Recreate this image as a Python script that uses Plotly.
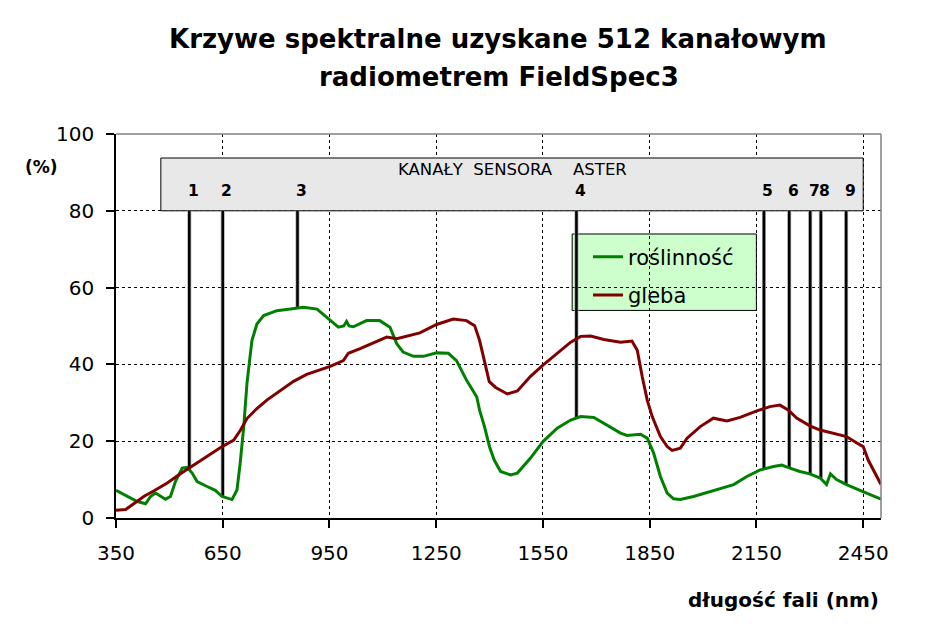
import plotly.graph_objects as go
import numpy as np

# ---------------- data ----------------
wl_green = [350, 382, 410, 433, 447, 461, 489, 503, 517, 536, 550, 564, 578, 606, 629, 648, 676, 690,
            699, 709, 718, 732, 746, 765, 802, 840, 877, 915, 943, 975, 990, 998, 1005, 1017, 1054,
            1091, 1120, 1139, 1157, 1186, 1214, 1251, 1284, 1307, 1335, 1364, 1372, 1385, 1400, 1413,
            1431, 1459, 1478, 1515, 1550, 1590, 1628, 1656, 1693, 1730, 1768, 1786, 1824, 1843, 1861,
            1880, 1899, 1917, 1936, 1973, 2029, 2086, 2123, 2160, 2198, 2221, 2244, 2272, 2300, 2329,
            2347, 2358, 2375, 2403, 2441, 2469, 2500]
green = [7.2, 5.6, 4.3, 3.7, 5.6, 6.5, 4.9, 5.6, 9.5, 13.0, 13.2, 11.7, 9.5, 8.2, 7.2, 5.6, 4.8, 7.3,
         14.3, 23.8, 35.0, 46.2, 50.5, 52.7, 54.0, 54.4, 54.9, 54.4, 52.3, 49.7, 50.0, 51.2, 50.0, 49.8, 51.4,
         51.4, 49.7, 45.4, 43.2, 42.1, 42.1, 43.0, 42.9, 41.0, 35.9, 31.5, 28.0, 24.0, 18.5, 15.1,
         12.1, 11.2, 11.7, 15.6, 19.9, 23.4, 25.5, 26.4, 26.2, 24.2, 22.1, 21.5, 21.8, 20.8, 16.9,
         10.8, 6.5, 5.0, 4.8, 5.6, 7.2, 8.7, 10.8, 12.5, 13.4, 13.8, 13.0, 12.1, 11.5, 10.4,
         8.7, 11.5, 10.0, 8.7, 7.2, 6.1, 4.9]

wl_red = [350, 377, 400, 428, 457, 494, 531, 569, 606, 643, 681, 700, 718, 746, 774, 812, 849, 886,
          924, 952, 989, 1003, 1036, 1073, 1111, 1139, 1167, 1204, 1251, 1298, 1335, 1358, 1372, 1385,
          1399, 1417, 1450, 1478, 1515, 1550, 1590, 1628, 1656, 1684, 1721, 1768, 1800, 1815, 1829,
          1843, 1857, 1880, 1899, 1913, 1936, 1955, 1992, 2029, 2067, 2104, 2151, 2188, 2216, 2240,
          2263, 2300, 2329, 2366, 2403, 2431, 2450, 2464, 2483, 2500]
red = [2.0, 2.2, 3.7, 5.6, 7.1, 9.1, 11.5, 13.8, 16.2, 18.3, 20.3, 22.9, 25.9, 28.5, 30.7, 33.3, 35.6, 37.4,
       38.6, 39.5, 41.0, 42.9, 44.1, 45.5, 47.1, 46.7, 47.3, 48.2, 50.4, 51.8, 51.4, 50.1, 46.2, 41.1,
       35.5, 34.0, 32.3, 33.1, 36.9, 39.8, 42.8, 45.8, 47.3, 47.4, 46.5, 45.8, 46.1, 43.7, 36.8,
       30.7, 26.4, 21.2, 18.6, 17.6, 18.2, 20.8, 23.8, 26.0, 25.3, 26.2, 27.9, 29.0, 29.4, 28.1,
       26.0, 24.0, 22.9, 22.1, 21.2, 19.6, 18.6, 15.1, 11.7, 8.7]

band_labels = ["1", "2", "3", "4", "5", "6", "7", "8", "9"]
band_x = [556, 650, 860, 1644, 2171, 2242, 2301, 2331, 2402]
band_top = 80
band_box = [476, 2450, 80, 93.75]   # x0, x1, y0, y1 of the sensor panel

x_ticks = [350, 650, 950, 1250, 1550, 1850, 2150, 2450]
y_ticks = [0, 20, 40, 60, 80, 100]

FONT = "DejaVu Sans"

# band line bottoms follow the vegetation curve
band_bottom = np.interp(band_x, wl_green, green)

fig = go.Figure()

# band lines (gray halo + black core)
bx, by = [], []
for xv, yb in zip(band_x, band_bottom):
    bx += [xv, xv, None]
    by += [yb, band_top, None]
fig.add_trace(go.Scatter(x=bx, y=by, mode="lines", line=dict(color="#A8A8A8", width=4),
                         showlegend=False, hoverinfo="skip"))
fig.add_trace(go.Scatter(x=bx, y=by, mode="lines", line=dict(color="#000000", width=2.5),
                         showlegend=False, hoverinfo="skip"))

fig.add_trace(go.Scatter(x=wl_green, y=green, mode="lines", name="roślinność",
                         line=dict(color="#008000", width=3), legendgroup="a"))
fig.add_trace(go.Scatter(x=wl_red, y=red, mode="lines", name="gleba",
                         line=dict(color="#800000", width=3), legendgroup="b"))

shapes = [
    # sensor panel
    dict(type="rect", xref="x", yref="y", x0=band_box[0], x1=band_box[1], y0=band_box[2], y1=band_box[3],
         fillcolor="#E8E8E8", line=dict(color="#000000", width=1), layer="between"),
    # legend box
    dict(type="rect", xref="paper", yref="paper", x0=0.5963, x1=0.8371, y0=0.5406, y1=0.7396,
         fillcolor="#CCFFCC", line=dict(color="#000000", width=1), layer="between"),
    # top and right border (gray)
    dict(type="line", xref="paper", yref="paper", x0=0, x1=1, y0=1, y1=1,
         line=dict(color="#808080", width=1.5), layer="above"),
    dict(type="line", xref="paper", yref="paper", x0=1, x1=1, y0=0, y1=1,
         line=dict(color="#808080", width=1.5), layer="above"),
]

annotations = [
    dict(text="<b>Krzywe spektralne uzyskane 512 kanałowym</b>", xref="paper", yref="paper",
         x=0.499, y=1.248, xanchor="center", yanchor="middle", showarrow=False,
         font=dict(family=FONT, size=26, color="#000000")),
    dict(text="<b>radiometrem FieldSpec3</b>", xref="paper", yref="paper",
         x=0.5, y=1.148, xanchor="center", yanchor="middle", showarrow=False,
         font=dict(family=FONT, size=26, color="#000000")),
    dict(text="<b>(%)</b>", xref="paper", yref="paper", x=-0.097, y=0.913,
         xanchor="center", yanchor="middle", showarrow=False,
         font=dict(family=FONT, size=17, color="#000000")),
    dict(text="<b>długość fali (nm)</b>", xref="paper", yref="paper", x=0.873, y=-0.213,
         xanchor="center", yanchor="middle", showarrow=False,
         font=dict(family=FONT, size=20, color="#000000")),
    dict(text="KANAŁY\u00a0\u00a0SENSORA\u00a0\u00a0\u00a0\u00a0ASTER", xref="x", yref="y",
         x=1465, y=90.7, xanchor="center", yanchor="middle", showarrow=False,
         font=dict(family=FONT, size=16.5, color="#000000")),
]
for lab, xv in zip(band_labels, band_x):
    annotations.append(dict(text="<b>" + lab + "</b>", xref="x", yref="y", x=xv, y=85.05,
                            xshift=4, xanchor="center", yanchor="middle", showarrow=False,
                            font=dict(family=FONT, size=15.5, color="#000000")))

fig.update_layout(
    width=915, height=615,
    margin=dict(l=108, r=42, t=126, b=105),
    paper_bgcolor="#FFFFFF", plot_bgcolor="#FFFFFF",
    font=dict(family=FONT, color="#000000"),
    showlegend=True,
    legend=dict(x=0.617, y=0.733, xanchor="left", yanchor="top",
                bgcolor="rgba(0,0,0,0)", borderwidth=0, tracegroupgap=8,
                font=dict(family=FONT, size=21, color="#000000")),
    shapes=shapes,
    annotations=annotations,
)
fig.update_xaxes(range=[350, 2500], tickvals=x_ticks, ticktext=[str(v) for v in x_ticks],
                 showline=True, linecolor="#000000", linewidth=1.5, ticks="outside", ticklen=8,
                 tickcolor="#000000", tickwidth=1.5, showgrid=True, gridcolor="#000000", gridwidth=1,
                 griddash="3px,3px", zeroline=False, ticklabelstandoff=8,
                 tickfont=dict(family=FONT, size=20, color="#000000"))
fig.update_yaxes(range=[0, 100], tickvals=y_ticks, ticktext=[str(v) for v in y_ticks],
                 showline=True, linecolor="#000000", linewidth=1.5, ticks="outside", ticklen=8,
                 tickcolor="#000000", tickwidth=1.5, showgrid=True, gridcolor="#000000", gridwidth=1,
                 griddash="3px,3px", zeroline=False, ticklabelstandoff=8,
                 tickfont=dict(family=FONT, size=20, color="#000000"))

fig.write_html("out.html")
